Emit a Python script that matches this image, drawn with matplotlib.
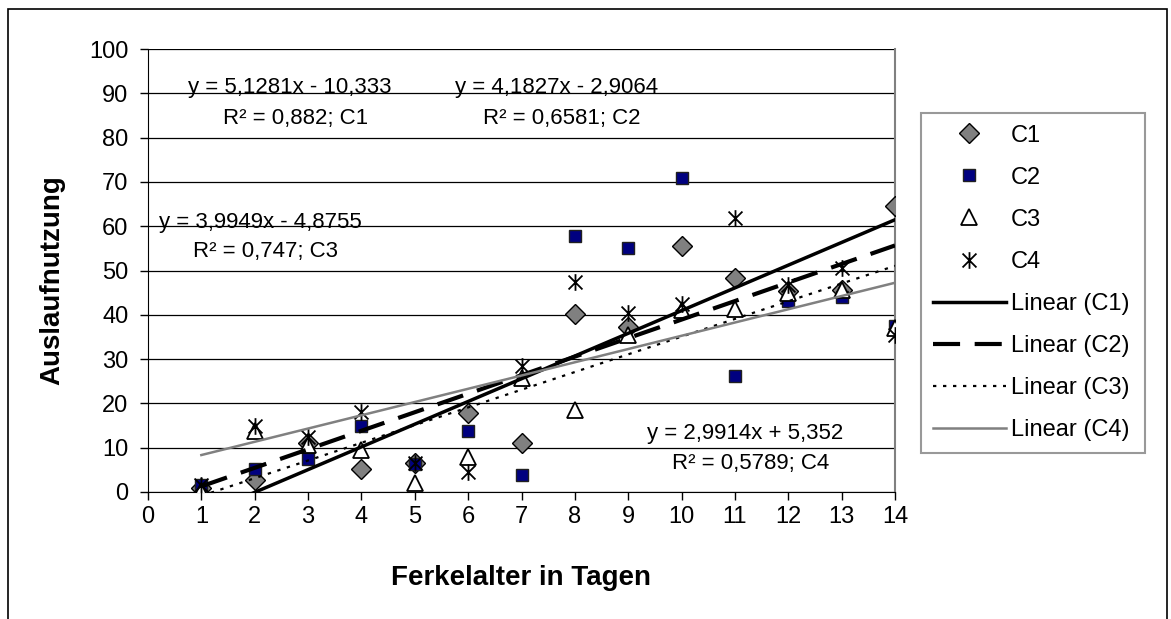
import numpy as np
import matplotlib.pyplot as plt
from matplotlib.path import Path
from matplotlib.patches import Rectangle

plt.rcParams['font.family'] = ['Liberation Sans', 'DejaVu Sans']

# data
tage = np.arange(1, 15)
c1 = [1, 2.7, 11, 5.2, 6.5, 17.8, 11.1, 40.2, 37.2, 55.5, 48.3, 45.3, 45.6, 64.5]
c2 = [1.5, 5.2, 7.4, 14.9, 6.4, 13.8, 3.9, 57.8, 55, 70.8, 26.2, 43.2, 44.1, 37.5]
c3 = [0.3, 13.8, 10.5, 9.5, 2, 7.8, 25.8, 18.5, 35.5, 41, 41.3, 45, 45.5, 37]
c4 = [1.5, 15, 12.4, 18, 6.5, 4.5, 28.5, 47.5, 40.5, 42.5, 61.8, 46.8, 50.5, 35.5]

# Trendlinien (aus den Gleichungen im Bild)
slopes = [5.1281, 4.1827, 3.9949, 2.9914]
intercepts = [-10.333, -2.9064, -4.8755, 5.352]
eq_texts = ["y = 5,1281x - 10,333", "y = 4,1827x - 2,9064",
            "y = 3,9949x - 4,8755", "y = 2,9914x + 5,352"]
r2_texts = ["R² = 0,882; C1", "R² = 0,6581; C2",
            "R² = 0,747; C3", "R² = 0,5789; C4"]

# Stern-Marker wie in Excel (X + senkrechter Strich)
star = Path([(-1, -1), (1, 1), (-1, 1), (1, -1), (0, -1.2), (0, 1.2)],
            [Path.MOVETO, Path.LINETO, Path.MOVETO, Path.LINETO, Path.MOVETO, Path.LINETO])

fig = plt.figure(figsize=(11.71, 6.19), dpi=100)
ax = fig.add_axes([148/1171, 1-492/619, (895-148)/1171, (492-49)/619])

ax.plot(tage, c1, 'D', ms=10, mfc='#808080', mec='black', mew=1, ls='none', label='C1', zorder=3)
ax.plot(tage, c2, 's', ms=9, mfc='#000080', mec='#202020', mew=1, ls='none', label='C2', zorder=3)
ax.plot(tage, c3, '^', ms=12, mfc='white', mec='black', mew=1.3, ls='none', label='C3', zorder=3)
ax.plot(tage, c4, marker=star, ms=12, mfc='none', mec='black', mew=1.3, ls='none', label='C4', zorder=3)

xl = np.array([1, 14])
styles = [dict(color='black', lw=2.5, ls='-'),
          dict(color='black', lw=3, ls=(0, (6.5, 3.5))),
          dict(color='black', lw=1.6, ls=(0, (1.5, 3))),
          dict(color='#808080', lw=1.8, ls='-')]
for i in range(4):
    ax.plot(xl, slopes[i]*xl + intercepts[i], label='Linear (C%d)' % (i+1), zorder=4, **styles[i])

# Beschriftungen der Trendlinien
eq_pos = [(2.66, 91.2, 84.4), (7.65, 91.2, 84.4), (2.10, 60.9, 54.2), (11.2, 13.3, 6.5)]
for i in range(4):
    x0, y1, y2 = eq_pos[i]
    ax.text(x0, y1, eq_texts[i], ha='center', va='center', fontsize=16, zorder=5)
    ax.text(x0 + 0.1, y2, r2_texts[i], ha='center', va='center', fontsize=16, zorder=5)

ax.set_xlim(0, 14)
ax.set_ylim(0, 100)
ax.set_xticks(range(0, 15))
ax.set_yticks(range(0, 101, 10))
ax.yaxis.grid(True, color='black', lw=0.9)
ax.set_axisbelow(True)
ax.tick_params(axis='both', labelsize=17, length=6, width=1, direction='out')
ax.tick_params(axis='y', pad=8)
ax.tick_params(axis='x', pad=4)
ax.spines['top'].set_visible(False)
ax.spines['right'].set_color('#808080')
ax.spines['right'].set_linewidth(1.5)

fig.text(521/1171, 1-578/619, 'Ferkelalter in Tagen', ha='center', va='center',
         fontsize=20, fontweight='bold')
fig.text(52/1171, 1-280/619, 'Auslaufnutzung', ha='center', va='center',
         rotation=90, fontsize=20, fontweight='bold')

leg = ax.legend(loc='upper left', bbox_to_anchor=(921/1171, 1-119/619, (1145-921)/1171, 0.01),
                bbox_transform=fig.transFigure, mode='expand', fontsize=17, frameon=True,
                fancybox=False, edgecolor='#808080', handlelength=3.1, handletextpad=0.2,
                labelspacing=0.85, borderpad=0.5, borderaxespad=0)
leg.get_frame().set_linewidth(1.5)

# Rahmen um das ganze Diagramm
fig.patches.append(Rectangle((8/1171, -0.05), (1167-8)/1171, 1-9/619+0.05,
                             transform=fig.transFigure, fill=False, ec='black', lw=1.2))

fig.savefig('out.png', dpi=100)
